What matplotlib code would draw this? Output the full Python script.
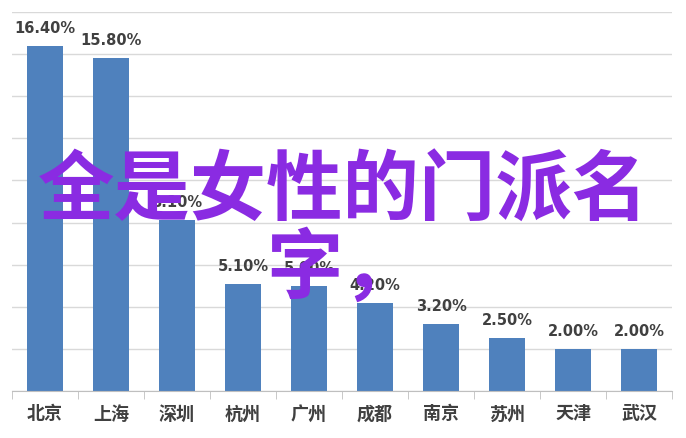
import matplotlib
matplotlib.use("Agg")
import matplotlib.pyplot as plt
import numpy as np

plt.rcParams['font.family'] = ['Noto Sans CJK SC', 'DejaVu Sans']

# data
cities = ["北京", "上海", "深圳", "杭州", "广州", "成都", "南京", "苏州", "天津", "武汉"]
share = [16.4, 15.8, 8.1, 5.1, 5.0, 4.2, 3.2, 2.5, 2.0, 2.0]
overlay = "全是女性的门派名\n字，"

BAR = "#4F81BD"
GRID = "#D9D9D9"
TXT = "#404040"

fig = plt.figure(figsize=(6.86, 4.39), dpi=100)
ax = fig.add_axes([12/686, 47/439, 660/686, 379/439])

x = np.arange(len(cities))
bars = ax.bar(x, share, width=0.55, color=BAR, zorder=2)

for b, v in zip(bars, share):
    ax.annotate(f"{v:.2f}%", (b.get_x() + b.get_width()/2, v),
                xytext=(0, 11), textcoords="offset pixels",
                ha="center", va="bottom", fontsize=10.5, fontweight="bold",
                color=TXT, family="DejaVu Sans")

ax.set_xlim(-0.5, len(cities) - 0.5)
ax.set_ylim(0, 18)
ax.set_yticks(np.arange(0, 19, 2))
ax.yaxis.grid(True, color=GRID, linewidth=1)
ax.tick_params(axis="y", length=0, labelleft=False)

ax.set_xticks(x)
ax.set_xticklabels(cities, fontsize=13, fontweight="bold", color=TXT)
ax.set_xticks(np.arange(-0.5, len(cities)), minor=True)
ax.tick_params(axis="x", which="major", length=0, pad=9)
ax.tick_params(axis="x", which="minor", length=6, color="#BFBFBF", direction="out")

for s in ["left", "right", "top"]:
    ax.spines[s].set_visible(False)
ax.spines["bottom"].set_color("#BFBFBF")

fig.text(0.5, 1 - 230/439, overlay, ha="center", va="center", fontsize=55,
         fontweight="bold", color="#8A2BE2", linespacing=1.0)

fig.savefig("out.png", dpi=100)
